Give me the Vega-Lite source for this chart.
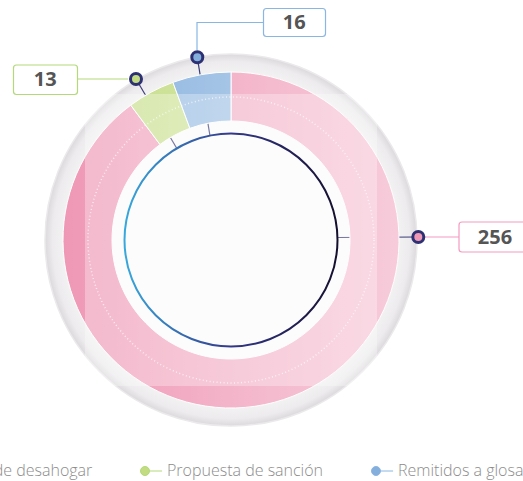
{
  "$schema": "https://vega.github.io/schema/vega-lite/v6.json",
  "width": 462,
  "height": 480,
  "autosize": {"type": "none"},
  "padding": {"left": 0, "top": 0, "right": 61, "bottom": 1},
  "background": "white",
  "config": {"view": {"stroke": null}},
  "data": {"values": [
    {"category": "Pendientes de desahogar", "count": 256},
    {"category": "Propuesta de sanción", "count": 13},
    {"category": "Remitidos a glosa", "count": 16}
  ]},
  "resolve": {"scale": {"shape": "independent"}},
  "layer": [
    {
      "data": {"values": [{"pieza": "aro exterior"}]},
      "mark": {"type": "point", "shape": "circle", "size": 138384, "filled": true, "opacity": 1,
        "fill": {"gradient": "radial", "x1": 0.5, "y1": 0.5, "r1": 0, "x2": 0.5, "y2": 0.5, "r2": 0.5,
          "stops": [{"offset": 0, "color": "#f4f3f4"}, {"offset": 0.9, "color": "#f3f2f3"}, {"offset": 0.96, "color": "#edebed"}, {"offset": 1, "color": "#dbd9db"}]},
        "stroke": "#ebe9eb", "strokeWidth": 1.5},
      "encoding": {}
    },
    {
      "data": {"values": [{"pieza": "centro"}]},
      "mark": {"type": "point", "shape": "circle", "size": 56644, "filled": true, "opacity": 1, "fill": "#fbfbfb", "strokeWidth": 0},
      "encoding": {}
    },
    {
      "mark": {"type": "point", "size": 4, "filled": false, "opacity": 1, "stroke": "#3b3d7a", "strokeWidth": 1.2},
      "encoding": {
        "shape": {"field": "category", "type": "nominal", "legend": null,
          "scale": {"domain": ["Pendientes de desahogar", "Propuesta de sanción", "Remitidos a glosa"],
            "range": ["M 106 -2.5 L 187 -3", "M -54 -91.3 L -95 -161", "M -21 -104 L -33.7 -182.7"]}}
      }
    },
    {
      "mark": {"type": "arc", "outerRadius": 168, "innerRadius": 119, "stroke": "white", "strokeWidth": 1},
      "encoding": {
        "theta": {"field": "count", "type": "quantitative", "stack": true},
        "order": {"field": "category", "sort": "ascending"},
        "color": {"field": "category", "type": "nominal",
          "scale": {"domain": ["Pendientes de desahogar", "Propuesta de sanción", "Remitidos a glosa"],
            "range": ["#ef98b5", "#c3dc82", "#84afdd"]},
          "legend": {"title": null, "orient": "none", "legendX": -121, "legendY": 463, "direction": "horizontal",
            "symbolType": "M -1 0 A 1 1 0 1 1 1 0 A 1 1 0 1 1 -1 0 Z M 1 0 L 3.8 0",
            "symbolSize": 81, "symbolStrokeColor": "#2b2e70", "symbolStrokeWidth": 1,
            "labelFont": "Open Sans", "labelFontSize": 16, "labelFontWeight": 300, "labelColor": "#8c8c8c", "labelOffset": 14,
            "columnPadding": 44, "padding": 0, "labelLimit": 400}
        }
      }
    },
    {
      "data": {"values": [{"pieza": "brillo"}]},
      "mark": {"type": "arc", "outerRadius": 168, "innerRadius": 119,
        "fill": {"gradient": "linear", "x1": 0, "y1": 0.5, "x2": 1, "y2": 0.5, "stops": [{"offset": 0, "color": "rgba(255,255,255,0)"}, {"offset": 0.55, "color": "rgba(255,255,255,0.3)"}, {"offset": 1, "color": "rgba(255,255,255,0.5)"}]}},
      "encoding": {}
    },
    {
      "data": {"values": [{"pieza": "anillo punteado"}]},
      "mark": {"type": "point", "shape": "circle", "size": 81796, "filled": false, "opacity": 0.7, "stroke": "white", "strokeWidth": 1.5, "strokeDash": [1, 2.5]},
      "encoding": {}
    },
    {
      "data": {"values": [{"pieza": "velo"}]},
      "mark": {"type": "point", "shape": "square", "size": 85264, "filled": true, "fill": "white", "opacity": 0.3, "strokeWidth": 0},
      "encoding": {}
    },
    {
      "data": {"values": [{"pieza": "circulo interior"}]},
      "mark": {"type": "point", "shape": "circle", "size": 45369, "filled": false, "opacity": 1, "strokeWidth": 2,
        "stroke": {"gradient": "linear", "x1": 0, "y1": 0.5, "x2": 1, "y2": 0.5, "stops": [{"offset": 0, "color": "#38a8dc"}, {"offset": 0.5, "color": "#34388a"}, {"offset": 1, "color": "#150f2e"}]}},
      "encoding": {}
    },
    {
      "mark": {"type": "point", "size": 4, "filled": true, "fill": "white", "opacity": 1, "strokeWidth": 1.2},
      "encoding": {
        "shape": {"field": "category", "type": "nominal", "legend": null,
          "scale": {"domain": ["Pendientes de desahogar", "Propuesta de sanción", "Remitidos a glosa"],
            "range": [
              "M 187 -3 H 228 M 231 -18 H 297 Q 300 -18 300 -15 V 9 Q 300 12 297 12 H 231 Q 228 12 228 9 V -15 Q 228 -18 231 -18 Z",
              "M -103 -161 H -153.5 M -214.5 -175 H -156.5 Q -153.5 -175 -153.5 -172 V -148.5 Q -153.5 -145.5 -156.5 -145.5 H -214.5 Q -217.5 -145.5 -217.5 -148.5 V -172 Q -217.5 -175 -214.5 -175 Z",
              "M -34 -190 V -217.5 H 32.5 M 35.5 -231.5 H 91.5 Q 94.5 -231.5 94.5 -228.5 V -206.5 Q 94.5 -203.5 91.5 -203.5 H 35.5 Q 32.5 -203.5 32.5 -206.5 V -228.5 Q 32.5 -231.5 35.5 -231.5 Z"
            ]}},
        "stroke": {"field": "category", "type": "nominal", "legend": null,
          "scale": {"domain": ["Pendientes de desahogar", "Propuesta de sanción", "Remitidos a glosa"],
            "range": ["#f49cbf", "#b3d97a", "#8ab6e3"]}}
      }
    },
    {
      "mark": {"type": "point", "size": 4, "filled": true, "opacity": 1, "stroke": "#2d3173", "strokeWidth": 3},
      "encoding": {
        "shape": {"field": "category", "type": "nominal", "legend": null,
          "scale": {"domain": ["Pendientes de desahogar", "Propuesta de sanción", "Remitidos a glosa"],
            "range": [
              "M 192.8 -3 A 5.5 5.5 0 1 1 181.8 -3 A 5.5 5.5 0 1 1 192.8 -3 Z",
              "M -89.5 -161 A 5.5 5.5 0 1 1 -100.5 -161 A 5.5 5.5 0 1 1 -89.5 -161 Z",
              "M -28.2 -182.7 A 5.5 5.5 0 1 1 -39.2 -182.7 A 5.5 5.5 0 1 1 -28.2 -182.7 Z"
            ]}},
        "color": {"field": "category", "type": "nominal"}
      }
    },
    {
      "mark": {"type": "text", "fontSize": 20, "fontWeight": "bold", "font": "Open Sans", "color": "#555555", "align": "center", "baseline": "middle"},
      "encoding": {
        "text": {"field": "count", "type": "quantitative"},
        "x": {"field": "count", "type": "quantitative", "axis": null,
          "scale": {"domain": [13, 16, 256], "range": [45.3, 294.3, 495], "zero": false, "nice": false}},
        "y": {"field": "count", "type": "quantitative", "axis": null,
          "scale": {"domain": [13, 16, 256], "range": [80, 23, 237.5], "zero": false, "nice": false}}
      }
    }
  ]
}
